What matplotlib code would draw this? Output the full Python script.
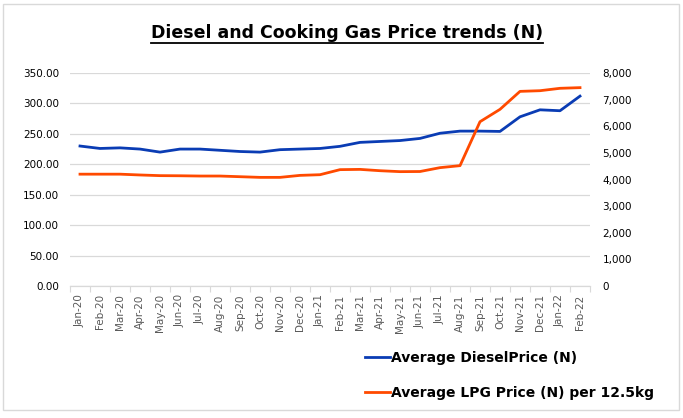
import matplotlib
matplotlib.use("Agg")
import matplotlib.pyplot as plt
from matplotlib.lines import Line2D
from matplotlib.patches import Rectangle
from matplotlib.ticker import FuncFormatter, MultipleLocator

months = ["Jan-20", "Feb-20", "Mar-20", "Apr-20", "May-20", "Jun-20", "Jul-20", "Aug-20",
          "Sep-20", "Oct-20", "Nov-20", "Dec-20", "Jan-21", "Feb-21", "Mar-21", "Apr-21",
          "May-21", "Jun-21", "Jul-21", "Aug-21", "Sep-21", "Oct-21", "Nov-21", "Dec-21",
          "Jan-22", "Feb-22"]
diesel = [230, 226, 227, 225, 220, 225, 225, 223, 221, 220, 224, 225, 226, 229.5,
          236, 237.5, 239, 242.5, 251, 254.5, 254.5, 254, 278, 289.5, 288, 312]
lpg = [4200, 4200, 4200, 4170, 4145, 4140, 4130, 4130, 4105, 4080, 4080, 4155, 4180,
       4370, 4380, 4330, 4295, 4300, 4445, 4520, 6170, 6635, 7310, 7335, 7425, 7450]

W, H = 683, 418
fig = plt.figure(figsize=(W / 100, H / 100), dpi=100)

ax = fig.add_axes([70 / W, 1 - 286 / H, (590 - 70) / W, (286 - 73) / H])
ax2 = ax.twinx()

x = list(range(len(months)))
l1, = ax.plot(x, diesel, color="#0a3cb4", lw=2, label="Average DieselPrice (N)")
l2, = ax2.plot(x, lpg, color="#ff4a00", lw=2, label="Average LPG Price (N) per 12.5kg")

ax.set_xlim(-0.5, 25.5)
ax.set_ylim(0, 350)
ax2.set_ylim(0, 8000)
ax.yaxis.set_major_locator(MultipleLocator(50))
ax2.yaxis.set_major_locator(MultipleLocator(1000))
ax.yaxis.set_major_formatter(FuncFormatter(lambda v, p: f"{v:.2f}"))
ax2.yaxis.set_major_formatter(FuncFormatter(lambda v, p: f"{v:,.0f}"))

ax.set_xticks(x)
ax.set_xticklabels(months, rotation=90, fontsize=7.5, color="#595959")
ax.set_xticks([i - 0.5 for i in range(len(months) + 1)], minor=True)
ax.tick_params(axis="x", which="major", length=0, pad=6)
ax.tick_params(axis="x", which="minor", length=4, color="#d9d9d9", width=0.8)
ax.tick_params(axis="y", length=0, pad=8, labelsize=7.5, labelcolor="#000000")
ax2.tick_params(axis="y", length=0, pad=9, labelsize=7.5, labelcolor="#000000")

ax.grid(axis="y", color="#d9d9d9", lw=0.9)
ax.set_axisbelow(True)
for a in (ax, ax2):
    for s in ("top", "left", "right", "bottom"):
        a.spines[s].set_visible(False)
ax.spines["bottom"].set_visible(True)
ax.spines["bottom"].set_color("#d9d9d9")
ax.spines["bottom"].set_linewidth(0.9)

# chart border
fig.patches.append(Rectangle((3 / W, 1 - 410 / H), (679 - 3) / W, (410 - 4) / H,
                             transform=fig.transFigure, fill=False,
                             edgecolor="#d9d9d9", lw=1))

# title with underline
t = fig.text(347 / W, 1 - 33 / H, "Diesel and Cooking Gas Price trends (N)",
             ha="center", va="center", fontsize=12.5, fontweight="bold",
             family="DejaVu Sans", color="black")
fig.canvas.draw()
bb = t.get_window_extent(renderer=fig.canvas.get_renderer())
fig.add_artist(Line2D([bb.x0 / W, bb.x1 / W], [1 - 43 / H, 1 - 43 / H],
                      transform=fig.transFigure, color="black", lw=1.3))

leg = fig.legend(handles=[l1, l2], loc="upper left",
                 bbox_to_anchor=(358 / W, 1 - 344 / H), frameon=False,
                 fontsize=10, handlelength=1.8, handletextpad=0.05,
                 labelspacing=1.5, borderpad=0)
for txt in leg.get_texts():
    txt.set_fontweight("bold")
    txt.set_color("#000000")

fig.savefig("out.png", dpi=100)
